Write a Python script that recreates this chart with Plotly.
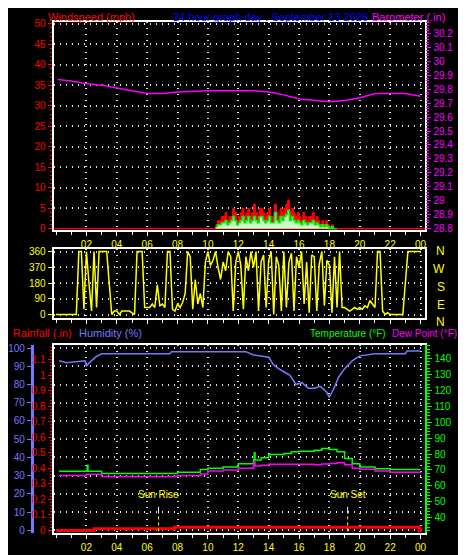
import plotly.graph_objects as go

# ---- data (hours since midnight) ----
BARO_HOURS = [0.1, 1, 2, 3, 4, 5, 6, 7, 8, 10, 12, 13, 14, 15, 16, 17, 18, 19, 20, 21, 22, 23, 24]
BARO = [29.87, 29.86, 29.84, 29.83, 29.81, 29.79, 29.77, 29.77, 29.78, 29.79, 29.79, 29.79, 29.78,
        29.76, 29.73, 29.72, 29.71, 29.72, 29.74, 29.77, 29.77, 29.77, 29.75]

WIND_HOURS = [10.5 + 0.125 * i for i in range(65)]
GUST = [1, 2, 2, 3, 3, 4, 2, 3, 3, 5, 4, 2, 3, 4, 5, 3, 4, 5, 3, 4, 6, 4, 3, 5, 5, 4, 3, 4, 5, 3, 3, 6,
        4, 3, 5, 4, 5, 6, 7, 4, 5, 4, 3, 4, 3, 2, 4, 3, 2, 3, 3, 4, 2, 3, 2, 1, 2, 1, 2, 1, 0, 1, 0, 0, 0]
AVG = [0.5, 1, 1, 1.5, 1.5, 2, 1, 1.5, 2, 3, 2, 1, 1.5, 2, 3, 1.5, 2, 3, 1.5, 2, 3, 2, 1.5, 3, 3, 2, 1.5, 2,
       3, 1.5, 1.5, 4, 2, 1.5, 3, 2, 3, 3.5, 4.5, 2, 3, 2, 1.5, 2, 1.5, 1, 2, 1.5, 1, 1.5, 1.5, 2, 1, 1.5,
       1, 0.5, 1, 0.5, 1, 0.5, 0, 0.5, 0, 0, 0]

# wind direction, one value per 10 minutes, one row per hour
DIRECTION = [
    0, 0, 0, 0, 0, 0,
    0, 0, 0, 360, 360, 30,
    360, 180, 20, 360, 40, 360,
    360, 360, 360, 180, 0, 20,
    20, 0, 20, 20, 20, 20,
    10, 0, 360, 360, 360, 40,
    40, 40, 60, 40, 170, 50,
    60, 40, 360, 360, 30, 20,
    60, 40, 70, 120, 360, 330,
    30, 200, 60, 120, 40, 300,
    360, 280, 310, 360, 270, 200,
    300, 250, 360, 330, 20, 300,
    360, 280, 30, 330, 250, 360,
    270, 360, 20, 300, 340, 40,
    310, 360, 0, 330, 280, 20,
    360, 40, 300, 350, 20, 330,
    270, 360, 60, 300, 10, 340,
    330, 20, 290, 360, 50, 310,
    280, 10, 330, 40, 360, 40,
    40, 30, 20, 30, 40, 30,
    40, 30, 50, 40, 80, 60,
    40, 360, 360, 20, 0, 10,
    0, 0, 0, 0, 0, 0,
    180, 360, 360, 360, 360, 360,
    360,
]
DIR_HOURS = [i / 6 for i in range(len(DIRECTION))]

HUM_HOURS = [0.2, 0.7, 1.9, 2.0, 2.2, 2.6, 3.0, 7.5, 7.6, 12.5, 13.0, 14.0, 14.3, 14.6, 15.0, 15.4, 15.8, 16.2,
             16.6, 17.0, 17.4, 17.8, 18.0, 18.3, 18.6, 19.0, 19.5, 20.0, 21.0, 23.0, 23.1, 24.0]
HUMIDITY = [93, 92, 93, 90, 92, 95, 96.8, 96.8, 98, 98, 96.2, 95, 91, 89, 87, 85, 80, 81, 78, 78, 79, 76, 73,
            78, 84, 88.7, 93, 95.7, 96.8, 96.8, 98.4, 98.4]

TEMP_HOURS = [0.2, 2.0, 2.05, 2.1, 2.5, 3, 8, 9.5, 10, 11, 12, 13, 13.05, 13.1, 13.5, 14, 15, 15.5, 16, 17,
              17.5, 18, 18.5, 19, 19.5, 20, 21, 22, 24]
TEMP = [69.2, 69.2, 73, 69.2, 69.2, 67.7, 68.5, 70.2, 71, 71.8, 73.9, 76.2, 80.8, 76.2, 77.6, 79.7, 80.3,
        81.4, 81.8, 82.4, 83.4, 82.8, 81.4, 77.2, 73.9, 71.8, 70.8, 70.2, 70.2]
DEW = [66.5, 67.3, 67.3, 67.3, 67.3, 65.9, 66.5, 67.5, 69.3, 70, 71, 72.4, 75, 72.4, 73, 73.5, 73.5,
       73.5, 73.5, 73.3, 73.8, 74, 74.5, 73.3, 71, 70.4, 69.3, 68.5, 68.8]

RAIN_HOURS = [0.0, 2.5, 7.8, 23.9, 24.1]
RAIN = [0.0, 0.01, 0.02, 0.0, 0.0]

SUN_EVENTS = [("Sun Rise", 6.75), ("Sun Set", 19.2)]
HOUR_TICKS = list(range(2, 25, 2))
HOUR_LABELS = ["%02d" % (h % 24) for h in HOUR_TICKS]
DIR_TICKS = [0, 90, 180, 270, 360]
DIR_LABELS = ["0", "90", "180", "370", "360"]
COMPASS = ["N", "W", "S", "E", "N"]

W, H = 466, 555
FONT = "Liberation Sans"


def px(x):
    return x / W


def py(y):
    return 1 - y / H


XDOM = [px(43), px(418)]
XR = [-0.16, 24.32]
GRID = dict(showgrid=True, gridcolor="#e0e0e0", griddash="1px,5px", gridwidth=1.5)

fig = go.Figure()

# panel 1: wind + barometer
fig.add_trace(go.Scatter(x=[-0.1, 24.3], y=[0, 0], mode="lines", line=dict(color="red", width=1.5),
                         xaxis="x", yaxis="y", showlegend=False))
fig.add_trace(go.Scatter(x=WIND_HOURS, y=GUST, mode="lines", line=dict(color="red", width=1, shape="hv"),
                         fill="tozeroy", fillcolor="red", xaxis="x", yaxis="y", showlegend=False))
fig.add_trace(go.Scatter(x=WIND_HOURS, y=AVG, mode="lines", line=dict(color="#00ee00", width=1.5, shape="hv"),
                         fill="tozeroy", fillcolor="#ccffcc", xaxis="x", yaxis="y", showlegend=False))
fig.add_trace(go.Scatter(x=BARO_HOURS, y=BARO, mode="lines", line=dict(color="#ff00ff", width=1.5),
                         xaxis="x", yaxis="y2", showlegend=False))

# panel 2: direction
fig.add_trace(go.Scatter(x=DIR_HOURS, y=DIRECTION, mode="lines", line=dict(color="yellow", width=1.5),
                         xaxis="x2", yaxis="y3", showlegend=False))

# panel 3: rain, humidity, temperature, dew point
fig.add_trace(go.Scatter(x=HUM_HOURS, y=HUMIDITY, mode="lines", line=dict(color="#7777ff", width=1.5),
                         xaxis="x3", yaxis="y5", showlegend=False))
fig.add_trace(go.Scatter(x=TEMP_HOURS, y=TEMP, mode="lines", line=dict(color="#00ff00", width=1.5, shape="hv"),
                         xaxis="x3", yaxis="y6", showlegend=False))
fig.add_trace(go.Scatter(x=TEMP_HOURS, y=DEW, mode="lines", line=dict(color="#ff00ff", width=1.5, shape="hv"),
                         xaxis="x3", yaxis="y6", showlegend=False))
fig.add_trace(go.Scatter(x=RAIN_HOURS, y=RAIN, mode="lines", line=dict(color="red", width=3, shape="hv"),
                         xaxis="x3", yaxis="y4", showlegend=False))

xbase = dict(range=XR, tickvals=HOUR_TICKS, ticktext=HOUR_LABELS, tickfont=dict(color="yellow", size=10),
             ticks="outside", tickcolor="white", ticklen=4, showline=True, linecolor="white", linewidth=2,
             mirror=True, zeroline=False, minor=dict(ticks="outside", dtick=1, tickcolor="white", ticklen=3),
             **GRID)

fig.update_layout(
    width=W, height=H, margin=dict(l=0, r=0, t=0, b=0),
    paper_bgcolor="black", plot_bgcolor="black",
    font=dict(family=FONT, size=10),
    xaxis=dict(domain=XDOM, anchor="y", **xbase),
    yaxis=dict(domain=[py(222), py(11)], range=[-0.24, 50.5], dtick=5, tickfont=dict(color="red"),
               ticks="outside", tickcolor="red", ticklen=4, zeroline=False,
               minor=dict(ticks="outside", dtick=1, tickcolor="red", ticklen=2),
               showline=True, linecolor="white", linewidth=2, mirror=True, **GRID),
    yaxis2=dict(overlaying="y", side="right", anchor="x", range=[28.79, 30.285], dtick=0.1,
                tickfont=dict(color="#ff00ff"), ticks="outside", tickcolor="#ff00ff", ticklen=5,
                minor=dict(ticks="outside", dtick=0.02, tickcolor="#ff00ff", ticklen=3),
                showgrid=False, zeroline=False),
    xaxis2=dict(domain=XDOM, anchor="y3", **{**xbase, "showticklabels": False}),
    yaxis3=dict(domain=[py(311), py(241)], range=[-17, 377], tickvals=DIR_TICKS, ticktext=DIR_LABELS,
                tickfont=dict(color="yellow"), ticks="outside", tickcolor="yellow", ticklen=4, zeroline=False,
                showline=True, linecolor="white", linewidth=2, mirror=True, **GRID),
    xaxis3=dict(domain=XDOM, anchor="y4", **xbase),
    yaxis4=dict(domain=[py(530), py(339)], range=[-0.019, 1.194], dtick=0.1, tickfont=dict(color="red"),
                ticks="outside", tickcolor="red", ticklen=4, showgrid=False, zeroline=False,
                minor=dict(ticks="outside", dtick=0.02, tickcolor="red", ticklen=2),
                showline=True, linecolor="white", linewidth=2, mirror=True),
    yaxis5=dict(overlaying="y4", anchor="free", position=px(21), side="left", range=[-1.6, 101.6], dtick=10,
                tickfont=dict(color="#7777ff"), ticks="outside", tickcolor="#7777ff", ticklen=4,
                showline=True, linecolor="#7777ff", linewidth=3, zeroline=False, **GRID),
    yaxis6=dict(overlaying="y4", side="right", anchor="x3", range=[30.1, 148.5], dtick=10,
                tickfont=dict(color="#00ff00"), ticks="outside", tickcolor="#00ff00", ticklen=5,
                minor=dict(ticks="outside", dtick=2, tickcolor="#00ff00", ticklen=3),
                showline=True, linecolor="#00ff00", linewidth=2, showgrid=False, zeroline=False),
)

# titles
titles = [
    ("Windspeed (mph)", 35, 6, "left", "red", 11),
    ("24 hour graph day : September 13 2026", 262, 6, "center", "#0000ff", 11),
    ("Barometer (.in)", 440, 6, "right", "#ff00ff", 11),
    ("Rainfall (.in)", 0, 327, "left", "red", 11),
    ("Humidity (%)", 67, 327, "left", "#7777ff", 11),
    ("Temperature (\u00b0F)", 380, 327, "right", "#00ff00", 10),
    ("Dew Point (\u00b0F)", 382, 327, "left", "#ff00ff", 10),
]
for text, x, y, anchor, color, size in titles:
    fig.add_annotation(text=text, x=px(x), y=py(y), xref="paper", yref="paper", xanchor=anchor,
                       yanchor="middle", showarrow=False, font=dict(color=color, size=size, family=FONT))

# compass letters beside direction panel
for i, letter in enumerate(COMPASS):
    fig.add_annotation(text=letter, x=px(440), y=py(244 + i * 18), xref="paper", yref="paper",
                       showarrow=False, font=dict(color="yellow", size=12, family=FONT))

# sun rise / sun set markers
for label, hour in SUN_EVENTS:
    fig.add_annotation(text=label, x=hour, y=py(498), xref="x3", yref="paper", showarrow=False,
                       font=dict(color="yellow", size=10, family=FONT))
    fig.add_shape(type="line", x0=hour, x1=hour, y0=py(510), y1=py(503), xref="x3", yref="paper",
                  line=dict(color="white", width=1))
    fig.add_shape(type="line", x0=hour, x1=hour, y0=py(528), y1=py(510), xref="x3", yref="paper",
                  line=dict(color="yellow", width=1, dash="dot"))

fig.write_html("out.html")
